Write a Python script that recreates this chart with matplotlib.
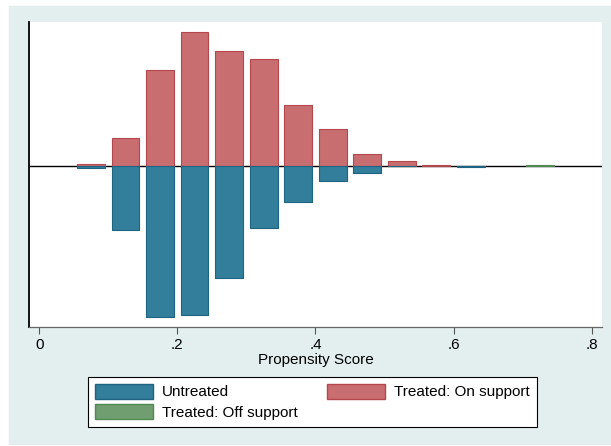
import matplotlib
matplotlib.use("Agg")
from matplotlib import pyplot as plt
from matplotlib.patches import Patch, Rectangle
import numpy as np

# bin centres of the propensity score histogram
bins = [0.075, 0.125, 0.175, 0.225, 0.275, 0.325, 0.375,
        0.425, 0.475, 0.525, 0.575, 0.625, 0.675, 0.725]
# share of each group in each bin
treated_on = [0.003, 0.0473, 0.160, 0.2246, 0.1918, 0.1784, 0.1015,
              0.0619, 0.0201, 0.0079, 0.0017, 0.0, 0.0, 0.0]
untreated = [0.0025, 0.107, 0.253, 0.249, 0.1868, 0.1042, 0.0597,
             0.0256, 0.0112, 0.0008, 0.0, 0.0017, 0.0, 0.0]
treated_off = [0.0, 0.0, 0.0, 0.0, 0.0, 0.0, 0.0,
               0.0, 0.0, 0.0, 0.0, 0.0, 0.0, 0.0017]
xticks = [0, 0.2, 0.4, 0.6, 0.8]
xticklabels = ["0", ".2", ".4", ".6", ".8"]

plt.rcParams['font.family'] = ['Liberation Sans', 'DejaVu Sans']
plt.rcParams['font.size'] = 11

blue, blue_e = '#337e9a', '#1d6382'
red, red_e = '#c86e71', '#b4464c'
green, green_e = '#719e71', '#4f8a50'
teal = '#e3efef'

fig = plt.figure(figsize=(6.11, 4.46), dpi=100, facecolor='white')
fig.patches.append(Rectangle((9/611, 2/446), 602/611, 438/446,
                             transform=fig.transFigure, color=teal, zorder=-10))

ax = fig.add_axes([29.3/611, 1 - 326.7/446, (602 - 29.3)/611, (326.7 - 21.7)/446])
ax.set_facecolor('white')

x = np.array(bins)
w = 0.04
tr = np.array(treated_on)
un = np.array(untreated)
off = np.array(treated_off)

ax.axhline(0, color='black', lw=1, zorder=1)
m = tr > 0
ax.bar(x[m], tr[m], width=w, color=red, edgecolor=red_e, linewidth=0.8, zorder=2)
m = un > 0
ax.bar(x[m], -un[m], width=w, color=blue, edgecolor=blue_e, linewidth=0.8, zorder=2)
m = off > 0
ax.bar(x[m], off[m], width=w, color=green, edgecolor=green_e, linewidth=0.8, zorder=2)

ax.set_xlim(-0.0145, 0.815)
ax.set_ylim(-0.2687, 0.2413)
ax.set_xticks(xticks)
ax.set_xticklabels(xticklabels)
ax.set_yticks([])
ax.tick_params(axis='x', direction='out', length=4.8, width=0.8, color='#555555', pad=3.5)
for s in ['top', 'right']:
    ax.spines[s].set_visible(False)
ax.spines['left'].set_color('black')
ax.spines['left'].set_linewidth(1.3)
ax.spines['bottom'].set_color('#666666')
ax.spines['bottom'].set_linewidth(0.9)
ax.set_xlabel("Propensity Score", labelpad=0.5)

handles = [Patch(facecolor=blue, edgecolor=blue_e),
           Patch(facecolor=green, edgecolor=green_e),
           Patch(facecolor=red, edgecolor=red_e)]
labels = ["Untreated", "Treated: Off support", "Treated: On support"]
leg = fig.legend(handles, labels, ncol=2, loc='upper left',
                 bbox_to_anchor=(88/611, 1 - 377/446), borderaxespad=0,
                 fancybox=False, frameon=True, edgecolor='black', framealpha=1,
                 handlelength=3.8, handleheight=1.1, handletextpad=0.6,
                 columnspacing=1.9, labelspacing=0.33, borderpad=0.45)
leg.get_frame().set_linewidth(0.8)

fig.savefig("out.png", dpi=100, facecolor='white')
